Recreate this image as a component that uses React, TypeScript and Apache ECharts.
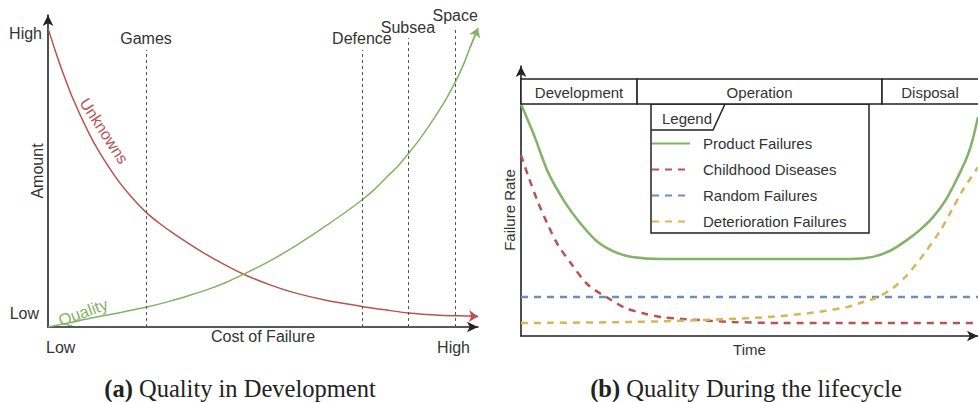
import React, { useEffect, useRef } from 'react';
import * as echarts from 'echarts';

// ---------- Panel (a): Quality in Development (units 0..100 on both axes) ----------
const unknownsX = [0, 1.63, 3.49, 5.58, 9.3, 12.09, 16.05, 19.77, 23.02, 26.05, 29.07, 33.02, 36.98, 41.16, 45.35, 51.63, 56.98, 64.88, 73.02, 78.37, 83.72, 91.16, 98.14, 100];
const unknownsY = [95.8, 88.8, 81.4, 73.9, 62.7, 55.7, 47.4, 41.1, 36.5, 33.1, 30.1, 26.5, 23.1, 19.9, 17.0, 13.5, 11.1, 8.5, 6.6, 5.5, 4.5, 3.8, 3.5, 3.4];
const qualityX = [0, 5.1, 9.8, 16.7, 23.0, 28.4, 33.0, 37.7, 41.2, 45.3, 49.3, 53.3, 57.0, 60.9, 64.9, 69.1, 73.0, 76.0, 78.8, 81.4, 83.7, 86.5, 89.5, 92.3, 94.7, 96.5, 98.1, 100];
const qualityY = [0, 1.4, 2.8, 4.6, 6.4, 8.3, 10.2, 12.3, 14.2, 16.8, 19.5, 22.5, 25.5, 29.0, 32.7, 36.7, 40.7, 44.2, 48.1, 51.6, 55.4, 60.3, 66.3, 72.4, 78.5, 83.7, 89.4, 95.8];
const sectors = ['Games', 'Defence', 'Subsea', 'Space'];
const sectorCost = [22.8, 73.0, 83.7, 94.7];
const sectorTop = [88.8, 88.8, 92.6, 96.2];
const amountLevels = ['Low', 'High'];
const costLevels = ['Low', 'High'];

// ---------- Panel (b): Quality During the lifecycle ----------
const productX = [0, 3.1, 5.9, 9.6, 13.3, 16.8, 20.6, 24.3, 30.9, 50.0, 72.0, 77.0, 80.7, 84.5, 87.3, 90.2, 92.8, 94.5, 96.1, 97.6, 98.7, 100];
const productY = [85.9, 73.3, 60.7, 49.6, 41.1, 34.8, 31.1, 29.3, 28.5, 28.5, 28.5, 29.3, 31.5, 35.6, 39.3, 44.1, 50.0, 55.2, 60.7, 66.3, 71.9, 81.1];
const childhoodX = [0, 1.5, 3.7, 5.9, 8.1, 11.2, 14.7, 19.0, 22.8, 26.5, 30.9, 35.4, 46.4, 57.3, 100];
const childhoodY = [67.0, 59.6, 49.6, 41.1, 33.7, 26.3, 18.9, 14.1, 10.4, 8.5, 7.0, 6.3, 5.2, 4.8, 4.8];
const randomX = [0, 100];
const randomY = [14.4, 14.4];
const deteriorationX = [0, 24.5, 39.2, 53.8, 63.2, 71.3, 74.2, 78.1, 81.4, 84.5, 88.0, 91.7, 94.5, 96.7, 100];
const deteriorationY = [4.8, 5.2, 5.9, 7.0, 8.5, 10.7, 12.2, 14.4, 17.8, 22.6, 30.0, 38.9, 47.4, 54.1, 62.5];
const phases = ['Development', 'Operation', 'Disposal'];
const phaseStart = [0, 25.4, 79.0];
const phaseEnd = [25.4, 79.0, 100];
const legendNames = ['Product Failures', 'Childhood Diseases', 'Random Failures', 'Deterioration Failures'];

const RED = '#b85450';
const GREEN = '#82b366';
const BLUE = '#6c8ebf';
const YELLOW = '#d6b656';
const INK = '#222';
const TXT = '#333';
const SANS = '"Liberation Sans", Arial, sans-serif';
const SERIF = '"Liberation Serif", "Times New Roman", serif';

const pts = (xs: number[], ys: number[]) => xs.map((x, i) => [x, ys[i]]);
const lastSeg = (xs: number[], ys: number[]) => {
  const n = xs.length;
  return [[xs[n - 2], ys[n - 2]], [xs[n - 1], ys[n - 1]]];
};

const mkAxis = (grid: number, name: string, isY: boolean, nameGap: number, fontSize: number, pad?: number[]) => ({
  type: 'value',
  gridIndex: grid,
  min: 0,
  max: 100,
  axisLine: {
    show: true,
    onZero: false,
    symbol: ['none', 'arrow'],
    symbolSize: [8, 11],
    lineStyle: { color: INK, width: 1.6 },
  },
  axisTick: { show: false },
  axisLabel: { show: false },
  splitLine: { show: false },
  name,
  nameLocation: 'middle',
  nameGap,
  nameRotate: isY ? 90 : 0,
  nameTextStyle: { fontFamily: SANS, fontSize, color: TXT, padding: pad || 0 },
});

const txt = (text: string, x: number, y: number, align: string, extra: any = {}) => ({
  type: 'text',
  x,
  y,
  rotation: extra.rotation || 0,
  style: {
    text,
    fill: extra.fill || TXT,
    fontFamily: SANS,
    fontSize: extra.fontSize || 15,
    align,
    verticalAlign: 'middle',
  },
});

export default function App() {
  const ref = useRef<HTMLDivElement>(null);
  useEffect(() => {
    document.body.style.margin = '0';
    const chart = echarts.init(ref.current as HTMLDivElement, null, { renderer: 'svg' });
    const option: any = {
      animation: false,
      backgroundColor: '#fff',
      grid: [
        { left: 48, top: 15, width: 430, height: 312 },
        { left: 521, top: 66, width: 457, height: 270 },
      ],
      xAxis: [mkAxis(0, 'Cost of Failure', false, 1, 16), mkAxis(1, 'Time', false, 6, 15)],
      yAxis: [mkAxis(0, 'Amount', true, 3, 16), mkAxis(1, 'Failure Rate', true, 4, 15, [0, 18, 0, 0])],
      legend: {
        data: legendNames,
        orient: 'vertical',
        left: 651,
        top: 136,
        padding: 0,
        itemWidth: 38,
        itemHeight: 14,
        itemGap: 11,
        selectedMode: false,
        itemStyle: { opacity: 0 },
        textStyle: { fontFamily: SANS, fontSize: 15, color: TXT, padding: [0, 0, 0, 8] },
      },
      series: [
        {
          type: 'line', name: 'Unknowns', xAxisIndex: 0, yAxisIndex: 0,
          data: pts(unknownsX, unknownsY), smooth: 0.3, symbol: 'none',
          lineStyle: { color: RED, width: 1.5 }, itemStyle: { color: RED }, z: 3,
        },
        {
          type: 'line', name: 'Quality', xAxisIndex: 0, yAxisIndex: 0,
          data: pts(qualityX, qualityY), smooth: 0.3, symbol: 'none',
          lineStyle: { color: GREEN, width: 1.5 }, itemStyle: { color: GREEN }, z: 3,
          markLine: {
            silent: true,
            symbol: ['none', 'none'],
            lineStyle: { color: '#555', type: [3, 3], width: 1 },
            label: { show: true, position: 'end', formatter: '{b}', fontFamily: SANS, fontSize: 16, color: TXT, distance: 3 },
            data: sectors.map((n, i) => [
              { name: n, coord: [sectorCost[i], 0] },
              { coord: [sectorCost[i], sectorTop[i]] },
            ]),
          },
        },
        {
          type: 'lines', coordinateSystem: 'cartesian2d', xAxisIndex: 0, yAxisIndex: 0,
          symbol: ['none', 'arrow'], symbolSize: 9,
          lineStyle: { color: RED, width: 1.5, opacity: 1 }, itemStyle: { color: RED },
          data: [{ coords: lastSeg(unknownsX, unknownsY) }], z: 4,
        },
        {
          type: 'lines', coordinateSystem: 'cartesian2d', xAxisIndex: 0, yAxisIndex: 0,
          symbol: ['none', 'arrow'], symbolSize: 9,
          lineStyle: { color: GREEN, width: 1.5, opacity: 1 }, itemStyle: { color: GREEN },
          data: [{ coords: lastSeg(qualityX, qualityY) }], z: 4,
        },
        {
          type: 'line', name: legendNames[0], xAxisIndex: 1, yAxisIndex: 1,
          data: pts(productX, productY), smooth: 0.3, symbol: 'none',
          lineStyle: { color: GREEN, width: 2.5 }, itemStyle: { color: GREEN },
        },
        {
          type: 'line', name: legendNames[1], xAxisIndex: 1, yAxisIndex: 1,
          data: pts(childhoodX, childhoodY), smooth: 0.3, symbol: 'none',
          lineStyle: { color: RED, width: 2.5, type: [7, 6] }, itemStyle: { color: RED },
        },
        {
          type: 'line', name: legendNames[2], xAxisIndex: 1, yAxisIndex: 1,
          data: pts(randomX, randomY), symbol: 'none',
          lineStyle: { color: BLUE, width: 2.5, type: [7, 6] }, itemStyle: { color: BLUE },
        },
        {
          type: 'line', name: legendNames[3], xAxisIndex: 1, yAxisIndex: 1,
          data: pts(deteriorationX, deteriorationY), smooth: 0.3, symbol: 'none',
          lineStyle: { color: YELLOW, width: 2.5, type: [7, 6] }, itemStyle: { color: YELLOW },
        },
      ],
    };
    chart.setOption(option);

    const graphics: any[] = [
      // panel (a) annotations
      txt(amountLevels[1], 42, 33, 'right', { fontSize: 16 }),
      txt(amountLevels[0], 39, 313, 'right', { fontSize: 16 }),
      txt(costLevels[0], 46, 347, 'left', { fontSize: 16 }),
      txt(costLevels[1], 470, 347, 'right', { fontSize: 16 }),
      txt('Unknowns', 104, 131, 'center', { fill: RED, fontSize: 16, rotation: (-57 * Math.PI) / 180 }),
      txt('Quality', 83, 312, 'center', { fill: GREEN, fontSize: 16.5, rotation: (20 * Math.PI) / 180 }),
      // legend frame of panel (b)
      {
        type: 'rect', z: 1,
        shape: { x: 651, y: 104, width: 218, height: 129 },
        style: { fill: 'none', stroke: INK, lineWidth: 1.5 },
      },
      {
        type: 'polyline', z: 1,
        shape: { points: [[651, 130], [713, 130], [725, 104]] },
        style: { fill: 'none', stroke: INK, lineWidth: 1.5 },
      },
      txt('Legend', 662, 118, 'left'),
      // captions
      {
        type: 'text', x: 240, y: 388,
        style: {
          text: '{b|(a)} Quality in Development',
          fill: INK, fontFamily: SERIF, fontSize: 24.5, align: 'center', verticalAlign: 'middle',
          rich: { b: { fontWeight: 'bold', fontFamily: SERIF, fontSize: 24.5, fill: INK } },
        },
      },
      {
        type: 'text', x: 746, y: 388,
        style: {
          text: '{b|(b)} Quality During the lifecycle',
          fill: INK, fontFamily: SERIF, fontSize: 24.5, align: 'center', verticalAlign: 'middle',
          rich: { b: { fontWeight: 'bold', fontFamily: SERIF, fontSize: 24.5, fill: INK } },
        },
      },
    ];
    phases.forEach((p, i) => {
      const x0 = chart.convertToPixel({ xAxisIndex: 1 }, phaseStart[i]) as number;
      const x1 = chart.convertToPixel({ xAxisIndex: 1 }, phaseEnd[i]) as number;
      graphics.push({
        type: 'rect', z: 5,
        shape: { x: x0, y: 79, width: x1 - x0 + (i === phases.length - 1 ? 4 : 0), height: 25 },
        style: { fill: '#fff', stroke: INK, lineWidth: 1.5 },
      });
      const t: any = txt(p, (x0 + x1) / 2, 92, 'center');
      t.z = 6;
      graphics.push(t);
    });
    chart.setOption({ graphic: graphics });

    return () => chart.dispose();
  }, []);
  return <div ref={ref} style={{ width: 978, height: 402 }} />;
}
